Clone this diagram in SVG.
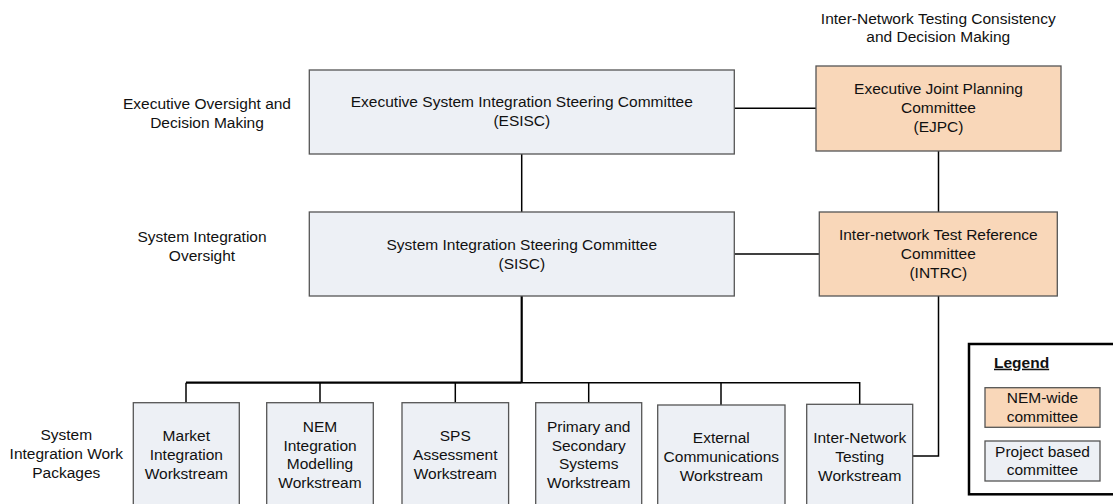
<svg xmlns="http://www.w3.org/2000/svg" width="1113" height="504" viewBox="0 0 1113 504">
<style>
text{font-family:"Liberation Sans",Arial,sans-serif;font-size:15.5px;fill:#111;text-anchor:middle}
.pb{fill:#EDF0F5;stroke:#555;stroke-width:1.3}
.nw{fill:#F9D7B9;stroke:#555;stroke-width:1.3}
.ln{fill:none;stroke:#000;stroke-width:1.5}
.tk{fill:none;stroke:#000;stroke-width:2.2}
</style>
<rect width="1113" height="504" fill="#fff"/>
<g id="connectors">
<line class="ln" x1="521.7" y1="154" x2="521.7" y2="212"/>
<line class="ln" x1="734.3" y1="108.3" x2="816" y2="108.3"/>
<line class="ln" x1="734.3" y1="254" x2="819.3" y2="254"/>
<line class="ln" x1="938.5" y1="151" x2="938.5" y2="212"/>
<polyline class="ln" points="938.5,296 938.5,456 912.7,456"/>
<line class="tk" x1="521.7" y1="296" x2="521.7" y2="382.7"/>
<line class="tk" x1="186" y1="382.7" x2="521.7" y2="382.7"/>
<polyline class="ln" points="521.7,382.7 859.7,382.7 859.7,404.3"/>
<line class="ln" x1="186" y1="382.7" x2="186" y2="402.7"/>
<line class="ln" x1="320" y1="382.7" x2="320" y2="402.7"/>
<line class="ln" x1="455.3" y1="382.7" x2="455.3" y2="402.7"/>
<line class="ln" x1="588.7" y1="382.7" x2="588.7" y2="402.7"/>
<line class="ln" x1="721" y1="382.7" x2="721" y2="405"/>
</g>
<g id="label-exec">
<text x="207" y="109.3">Executive Oversight and</text>
<text x="207" y="128.3">Decision Making</text>
</g>
<g id="label-si">
<text x="202" y="242">System Integration</text>
<text x="202" y="261">Oversight</text>
</g>
<g id="label-wp">
<text x="66.3" y="440">System</text>
<text x="66.3" y="459">Integration Work</text>
<text x="66.3" y="477.7">Packages</text>
</g>
<g id="label-int">
<text x="938.3" y="24">Inter-Network Testing Consistency</text>
<text x="938.3" y="41.7">and Decision Making</text>
</g>
<g id="esisc">
<rect class="pb" x="309.3" y="70" width="425" height="84"/>
<text x="521.8" y="106.7">Executive System Integration Steering Committee</text>
<text x="521.8" y="126">(ESISC)</text>
</g>
<g id="sisc">
<rect class="pb" x="309.3" y="212" width="425" height="84"/>
<text x="521.8" y="250">System Integration Steering Committee</text>
<text x="521.8" y="268.5">(SISC)</text>
</g>
<g id="ejpc">
<rect class="nw" x="816" y="66" width="245" height="85"/>
<text x="938.5" y="94">Executive Joint Planning</text>
<text x="938.5" y="113.3">Committee</text>
<text x="938.5" y="132.3">(EJPC)</text>
</g>
<g id="intrc">
<rect class="nw" x="819.3" y="212" width="238" height="84"/>
<text x="938.3" y="240">Inter-network Test Reference</text>
<text x="938.3" y="259.3">Committee</text>
<text x="938.3" y="278.3">(INTRC)</text>
</g>
<g id="market">
<rect class="pb" x="133.3" y="402.7" width="106" height="110"/>
<text x="186.3" y="441">Market</text>
<text x="186.3" y="460">Integration</text>
<text x="186.3" y="479">Workstream</text>
</g>
<g id="nem">
<rect class="pb" x="266.7" y="402.7" width="106.6" height="110"/>
<text x="320" y="431.7">NEM</text>
<text x="320" y="450.7">Integration</text>
<text x="320" y="469.3">Modelling</text>
<text x="320" y="487.7">Workstream</text>
</g>
<g id="sps">
<rect class="pb" x="402" y="402.7" width="106.6" height="110"/>
<text x="455.3" y="441">SPS</text>
<text x="455.3" y="460">Assessment</text>
<text x="455.3" y="479">Workstream</text>
</g>
<g id="primary">
<rect class="pb" x="535.7" y="402.7" width="106" height="110"/>
<text x="588.7" y="431.7">Primary and</text>
<text x="588.7" y="450.7">Secondary</text>
<text x="588.7" y="469.3">Systems</text>
<text x="588.7" y="487.7">Workstream</text>
</g>
<g id="external">
<rect class="pb" x="657.7" y="405" width="127.3" height="110"/>
<text x="721.3" y="443.3">External</text>
<text x="721.3" y="462.3">Communications</text>
<text x="721.3" y="480.7">Workstream</text>
</g>
<g id="internetwork">
<rect class="pb" x="806.7" y="404.3" width="106" height="110"/>
<text x="859.7" y="443.3">Inter-Network</text>
<text x="859.7" y="461.7">Testing</text>
<text x="859.7" y="480.7">Workstream</text>
</g>
<g id="legend">
<rect x="969" y="344" width="160" height="150.3" fill="#fff" stroke="#000" stroke-width="2.5"/>
<text x="994" y="367.7" style="text-anchor:start;font-weight:bold;text-decoration:underline">Legend</text>
<rect class="nw" x="985" y="387.7" width="115" height="39.6"/>
<text x="1042.5" y="403.3">NEM-wide</text>
<text x="1042.5" y="421.7">committee</text>
<rect class="pb" x="985" y="441" width="115" height="40"/>
<text x="1042.5" y="456.7">Project based</text>
<text x="1042.5" y="475">committee</text>
</g>
</svg>
